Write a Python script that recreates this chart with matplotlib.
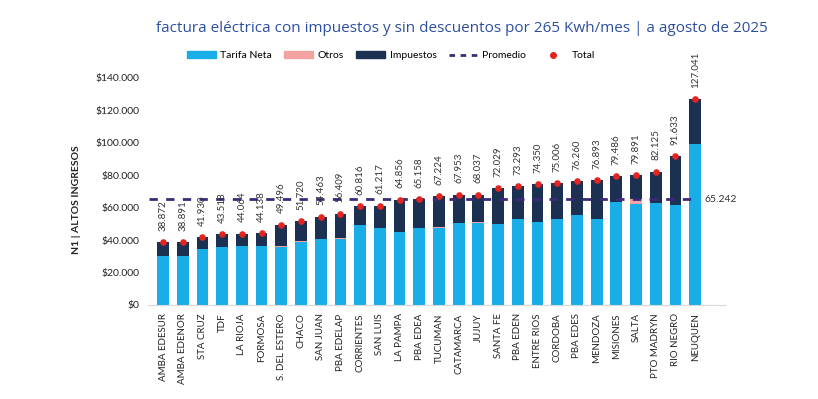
import numpy as np
import matplotlib
matplotlib.use('Agg')
import matplotlib.pyplot as plt
from matplotlib.lines import Line2D
from matplotlib.patches import Patch

# provincias / distribuidoras
categorias = ['AMBA EDESUR', 'AMBA EDENOR', 'STA CRUZ', 'TDF', 'LA RIOJA', 'FORMOSA',
              'S. DEL ESTERO', 'CHACO', 'SAN JUAN', 'PBA EDELAP', 'CORRIENTES', 'SAN LUIS',
              'LA PAMPA', 'PBA EDEA', 'TUCUMAN', 'CATAMARCA', 'JUJUY', 'SANTA FE',
              'PBA EDEN', 'ENTRE RIOS', 'CORDOBA', 'PBA EDES', 'MENDOZA', 'MISIONES',
              'SALTA', 'PTO MADRYN', 'RIO NEGRO', 'NEUQUEN']

total = [38872, 38891, 41930, 43518, 44064, 44138, 49496, 51720, 54463, 56409,
         60816, 61217, 64856, 65158, 67224, 67953, 68037, 72029, 73293, 74350,
         75006, 76260, 76893, 79486, 79891, 82125, 91633, 127041]

# leidos a ojo del grafico
tarifa_neta = [30400, 30400, 34400, 36000, 36400, 36400, 35600, 38700, 40900, 40900,
               49400, 47700, 45300, 47300, 47300, 50800, 50400, 49800, 53300, 51400,
               52900, 55600, 53300, 63800, 62300, 62800, 61700, 99400]
otros = [0, 0, 0, 0, 0, 0, 500, 600, 0, 300,
         0, 0, 0, 300, 800, 0, 800, 0, 0, 0,
         0, 0, 0, 0, 2900, 0, 0, 0]
impuestos = [t - n - o for t, n, o in zip(total, tarifa_neta, otros)]

promedio = 65242

c_neta = '#1aaee8'
c_otros = '#f4a3a3'
c_imp = '#1c3152'
c_prom = '#3b2a78'
c_total = '#e3241f'

fig = plt.figure(figsize=(8.18, 3.99), dpi=100)
ax = fig.add_axes([0.181, 0.2356, 0.705, 0.569])

x = np.arange(len(categorias))
w = 0.6
ax.bar(x, tarifa_neta, w, color=c_neta, zorder=2)
ax.bar(x, otros, w, bottom=tarifa_neta, color=c_otros, zorder=2)
ax.bar(x, impuestos, w, bottom=np.array(tarifa_neta) + np.array(otros), color=c_imp, zorder=2)
ax.scatter(x, total, s=14, color=c_total, zorder=4)

ax.hlines(promedio, -0.7, x[-1] + 0.1, colors=c_prom, linestyles=(0, (3, 3)), linewidth=2, zorder=3)
ax.text(x[-1] + 0.45, promedio, f'{promedio:,}'.replace(',', '.'), va='center', ha='left',
        fontsize=7.5, color='#333333', family='Lato')

for xi, t in zip(x, total):
    ax.text(xi, t + 7000, f'{t:,}'.replace(',', '.'), rotation=90, ha='center', va='bottom',
            fontsize=7, color='#333333', family='Lato')

ax.set_xlim(-0.76, 28.5)
ax.set_ylim(0, 140000)
ax.set_yticks(np.arange(0, 140001, 20000))
ax.set_yticklabels(['$0'] + [f'${v:,}'.replace(',', '.') for v in range(20000, 140001, 20000)],
                   fontsize=7.5, family='Lato', color='#222222')
ax.set_xticks(x)
ax.set_xticklabels(categorias, rotation=90, fontsize=7, family='Lato', color='#222222')
ax.tick_params(length=0, pad=6)
for s in ['top', 'right', 'left']:
    ax.spines[s].set_visible(False)
ax.spines['bottom'].set_color('#d9d9d9')

fig.text(0.093, 0.50, 'N1 | ALTOS INGRESOS', rotation=90, ha='center', va='center',
         fontsize=7.5, fontweight='bold', family='Lato', color='#222222')

fig.text(0.565, 0.928, 'factura eléctrica con impuestos y sin descuentos por 265 Kwh/mes | a agosto de 2025',
         ha='center', va='center', fontsize=11, color='#2d4f9e', family='Open Sans')

handles = [Patch(color=c_neta), Patch(color=c_otros), Patch(color=c_imp),
           Line2D([], [], color=c_prom, linestyle=(0, (2, 2)), linewidth=2),
           Line2D([], [], marker='o', color=c_total, linestyle='none', markersize=4)]
labels = ['Tarifa Neta', 'Otros', 'Impuestos', 'Promedio', 'Total']
fig.legend(handles, labels, loc='center', bbox_to_anchor=(0.478, 0.86), ncol=5, frameon=False,
           prop={'family': 'Lato', 'size': 7.5}, handlelength=2.8, handleheight=0.6,
           columnspacing=1.2, handletextpad=0.4)

fig.savefig('out.png', dpi=100)
